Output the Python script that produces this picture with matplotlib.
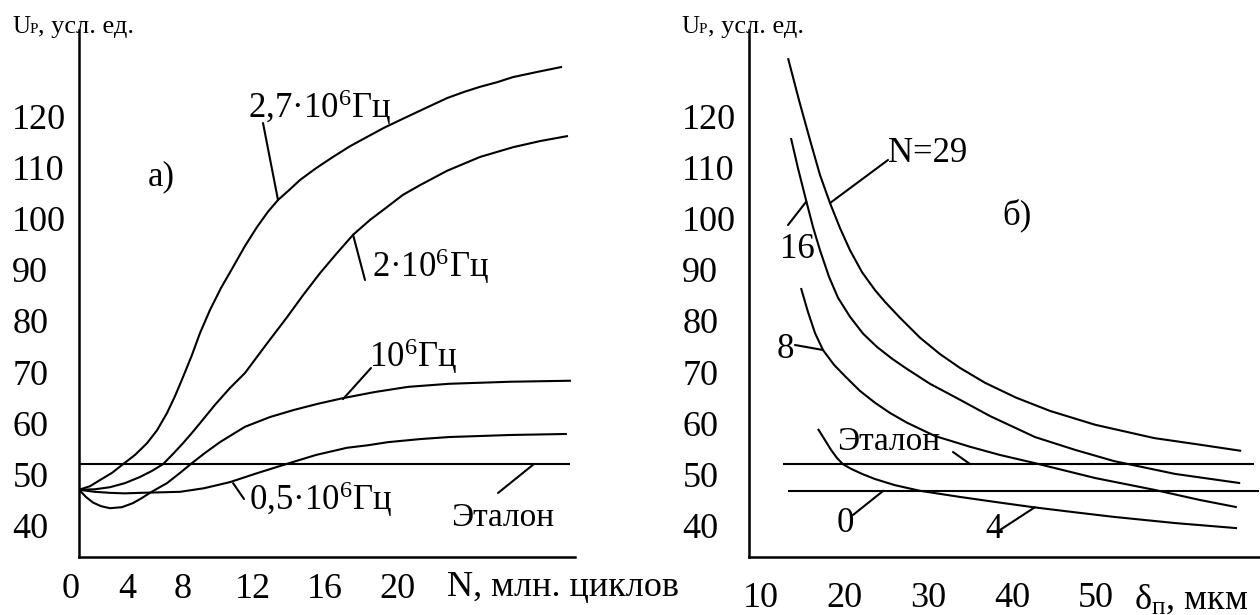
import numpy as np
import matplotlib
matplotlib.use("Agg")
import matplotlib.pyplot as plt
from matplotlib.transforms import ScaledTranslation

plt.rcParams["font.family"] = ["Liberation Serif", "DejaVu Serif"]
plt.rcParams["mathtext.fontset"] = "custom"
plt.rcParams["mathtext.rm"] = "Liberation Serif"
plt.rcParams["mathtext.it"] = "Liberation Serif:italic"
plt.rcParams["mathtext.bf"] = "Liberation Serif:bold"

# ---------------- panel а): U_P versus N (million cycles) ----------------
n_27 = [0, 0.92, 1.75, 2.75, 3.67, 4.57, 5.43, 6.14, 6.86, 7.43, 8.0, 8.51,
        8.97, 9.54, 10.17, 10.86, 11.54, 12.22, 12.83, 13.39, 14.06, 14.61,
        15.5, 16.44, 17.39, 18.33, 19.28, 20.17, 21.5, 22.78, 23.72, 24.61,
        25.56, 26.44, 27.78, 29.17]
u_27 = [47.0, 47.7, 48.9, 50.3, 52.0, 53.8, 56.1, 58.6, 62.0, 65.3, 69.0, 73.3,
        77.6, 82.1, 86.4, 90.5, 94.6, 98.3, 101.3, 103.6, 105.7, 107.5,
        109.8, 112.0, 114.1, 115.9, 117.7, 119.2, 121.4, 123.5, 124.7, 125.7,
        126.6, 127.6, 128.6, 129.6]

n_20 = [0, 1.33, 2.58, 3.83, 4.93, 5.79, 6.57, 7.29, 8.0, 8.51, 8.97, 9.83,
        10.69, 11.54, 12.72, 13.89, 14.78, 15.72, 16.61, 17.56, 18.5, 19.44,
        20.33, 21.28, 22.78, 24.61, 26.44, 27.94, 29.5]
u_20 = [47.0, 47.1, 47.5, 48.3, 49.5, 50.7, 52.0, 54.0, 56.1, 58.1, 60.0, 63.6,
        66.9, 69.8, 75.3, 80.7, 85.0, 89.3, 93.0, 96.8, 99.7, 102.2,
        104.6, 106.5, 109.3, 112.0, 113.9, 115.1, 116.1]

n_10 = [0, 0.58, 1.17, 1.83, 2.58, 3.58, 4.43, 5.07, 5.64, 6.21, 6.86, 7.79,
        8.51, 9.26, 10.11, 11.54, 12.94, 14.28, 15.61, 17.0, 18.78, 20.61,
        22.89, 26.28, 29.67]
u_10 = [47.0, 45.6, 44.5, 43.8, 43.4, 43.6, 44.4, 45.4, 46.4, 47.3, 48.3, 50.3,
        52.2, 54.2, 56.3, 59.3, 61.2, 62.6, 63.8, 64.9, 66.1, 67.1,
        67.7, 68.1, 68.3]

n_05 = [0, 1.33, 2.58, 3.83, 4.93, 6.36, 7.79, 9.2, 10.69, 12.28, 13.83, 15.5,
        17.22, 18.39, 19.5, 21.28, 22.89, 26.28, 29.44]
u_05 = [47.0, 46.6, 46.4, 46.3, 46.4, 46.5, 46.6, 47.3, 48.5, 50.3, 52.0, 53.8,
        55.2, 55.7, 56.3, 56.9, 57.3, 57.7, 57.9]

etalon_u = 52.0
etalon_n = [0, 29.6]

n_ticks = [0, 4, 8, 12, 16, 20]
u_ticks = [40, 50, 60, 70, 80, 90, 100, 110, 120]

# ---------------- panel б): U_P versus δп (µm) for several N ----------------
d_29 = [13.21, 14.52, 15.84, 17.03, 18.23, 19.43, 20.62, 22.06, 23.61, 24.81,
        26.6, 29.0, 31.39, 33.78, 36.77, 40.48, 44.55, 49.94, 57.0, 62.5, 67.42]
u_29 = [131.3, 123.1, 115.3, 108.5, 103.0, 98.1, 93.8, 89.5, 86.0, 83.7,
        80.6, 76.7, 73.5, 70.8, 67.9, 65.0, 62.4, 59.7, 57.1, 55.8, 54.6]

d_16 = [13.56, 14.4, 15.36, 16.2, 17.03, 18.11, 19.19, 20.62, 22.18, 23.85,
        25.65, 27.44, 30.19, 33.3, 37.37, 42.75, 47.54, 52.21, 59.5, 67.3]
u_16 = [115.7, 109.8, 103.6, 98.3, 93.8, 88.6, 84.5, 80.8, 77.5, 74.9,
        72.6, 70.6, 67.7, 65.0, 61.4, 57.3, 54.8, 52.6, 50.1, 48.3]

d_8 = [14.76, 15.6, 16.44, 17.39, 18.71, 20.14, 21.82, 23.61, 25.41, 27.44,
       30.79, 34.98, 38.56, 42.75, 49.93, 56.99, 62.5, 66.9]
u_8 = [86.4, 81.7, 77.6, 74.3, 71.4, 69.0, 66.3, 64.0, 62.0, 60.1,
       57.5, 55.4, 53.8, 52.2, 49.3, 47.0, 45.0, 43.6]

d_4 = [16.79, 17.63, 18.35, 19.07, 19.78, 20.74, 22.06, 23.61, 26.0, 28.99,
       33.78, 38.09, 42.51, 47.54, 52.21, 59.5, 66.92]
u_4 = [58.9, 56.7, 54.8, 53.2, 52.0, 51.1, 50.1, 49.1, 47.9, 46.8,
       45.6, 44.6, 43.6, 42.6, 41.7, 40.5, 39.5]

d_etalon = [12.6, 68.9]
d_zero = [13.2, 69.6]
u_zero = 46.8

d_ticks = [10, 20, 30, 40, 50]

# ---------------- figure ----------------
W, H = 1260, 615
fig = plt.figure(figsize=(W / 100, H / 100), dpi=100)


def fx(x):
    return x / W


def fy(y):
    return 1 - y / H


LW = 1.5
SPINE_LW = 1.8
TICK_FS = 26
NOTE_FS = 25

ax1 = fig.add_axes([fx(79), fy(557), fx(575) - fx(79), fy(30) - fy(557)])
ax2 = fig.add_axes([fx(749), fy(557), fx(1260) - fx(749), fy(30) - fy(557)])

# the N axis of panel а) is drawn with uneven spacing between its labels
knot_n = [-5, 0, 4, 8, 12, 16, 20, 40]
knot_p = [19, 79, 127, 183, 253, 325, 397, 757]


def n_fwd(v):
    return np.interp(v, knot_n, knot_p)


def n_inv(v):
    return np.interp(v, knot_p, knot_n)


ax1.set_xscale("function", functions=(n_fwd, n_inv))

for ax in (ax1, ax2):
    for s in ("top", "right"):
        ax.spines[s].set_visible(False)
    for s in ("left", "bottom"):
        ax.spines[s].set_linewidth(SPINE_LW)
    ax.set_ylim(33.87, 136.8)
    ax.set_yticks(u_ticks)
    ax.tick_params(axis="both", length=0, labelsize=TICK_FS)
    ax.tick_params(axis="y", pad=48)
    for lab in ax.get_yticklabels():
        lab.set_horizontalalignment("left")
    ax.set_facecolor("none")

ax1.set_xlim(0, 29.89)
ax1.set_xticks(n_ticks)
ax1.tick_params(axis="x", pad=11.5)
first = ax1.get_xticklabels()[0]
first.set_transform(first.get_transform() + ScaledTranslation(-8 / 100, 0, fig.dpi_scale_trans))

ax2.set_xlim(8.54, 69.67)
ax2.set_xticks(d_ticks)
ax2.tick_params(axis="x", pad=18)

k = dict(color="black", lw=LW, solid_capstyle="butt", solid_joinstyle="round")
ax1.plot(n_27, u_27, **k)
ax1.plot(n_20, u_20, **k)
ax1.plot(n_10, u_10, **k)
ax1.plot(n_05, u_05, **k)
ax1.plot(etalon_n, [etalon_u, etalon_u], **k)

ax2.plot(d_29, u_29, **k)
ax2.plot(d_16, u_16, **k)
ax2.plot(d_8, u_8, **k)
ax2.plot(d_4, u_4, **k)
ax2.plot(d_etalon, [etalon_u, etalon_u], **k)
ax2.plot(d_zero, [u_zero, u_zero], **k)


def leader(ax, xy, start_px):
    ax.annotate("", xy=xy, xycoords="data",
                xytext=(fx(start_px[0]), fy(start_px[1])), textcoords="figure fraction",
                arrowprops=dict(arrowstyle="-", lw=LW, color="black",
                                shrinkA=0, shrinkB=0))


def note(x, y, s, size=NOTE_FS, va="baseline"):
    return fig.text(fx(x), fy(y), s, fontsize=size, ha="left", va=va)


# leaders of panel а)
leader(ax1, (13.39, 103.6), (263, 123))
leader(ax1, (17.56, 96.8), (365, 280))
leader(ax1, (17.0, 64.7), (371, 368))
leader(ax1, (10.86, 48.3), (244, 499))
leader(ax1, (27.6, etalon_u), (498, 493))

# leaders of panel б)
leader(ax2, (18.23, 103.0), (888, 160))
leader(ax2, (15.4, 103.3), (788, 225))
leader(ax2, (17.39, 74.3), (795, 345))
leader(ax2, (35.0, etalon_u), (953, 452))
leader(ax2, (24.6, u_zero), (853, 515))
leader(ax2, (42.75, 43.6), (1000, 530))

# labels of panel а)
note(248, 118, "2,7·10$^6$Гц")
note(372, 277, "2·10$^6$Гц")
note(369, 367, "10$^6$Гц")
note(249, 510, "0,5·10$^6$Гц")
note(451, 526, "Эталон", size=24)
note(148, 177, "а)", va="center")
note(447, 596, "N, млн. циклов", size=TICK_FS)

# labels of panel б)
note(888, 162, "N=29")
note(780, 258, "16")
note(777, 358, "8")
note(837, 450, "Эталон", size=24)
note(837, 532, "0")
note(985, 538, "4")
note(1002, 215, "б)", va="center")
note(1134, 609, "δ$_\\mathregular{п}$, мкм", size=TICK_FS)

# vertical axis captions: "U" with a small "Р" on the same baseline
renderer = fig.canvas.get_renderer()
for x0 in (12, 681):
    t_u = note(x0, 33, "U", size=18)
    x_next = t_u.get_window_extent(renderer).x1
    t_p = fig.text(x_next / W, fy(33), "Р", fontsize=11, ha="left", va="baseline")
    x_next = t_p.get_window_extent(renderer).x1
    fig.text(x_next / W, fy(33), ", усл. ед.", fontsize=19, ha="left", va="baseline")

fig.savefig("out.png", dpi=100, facecolor="white")
